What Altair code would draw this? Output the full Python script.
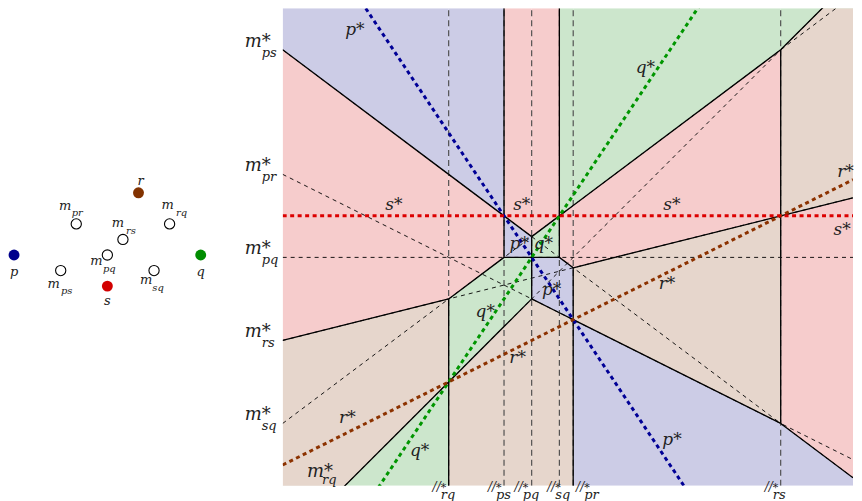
import altair as alt
import pandas as pd

# ---------------- data ----------------
SITES = ["p", "q", "r", "s"]
SITE_X = [-1.5, 1.5, 0.5, 0.0]
SITE_Y = [0.0, 0.0, 1.0, -0.5]
SITE_COLORS = ["#00008c", "#008c00", "#823200", "#d20000"]
LINE_COLORS = ["#000096", "#009600", "#8c3200", "#dc0000"]
REGION_FILLS = ["#ccccE6", "#cce6cc", "#e6d6cc", "#f6cccc"]

PAIRS = ["ps", "pr", "pq", "rs", "sq", "rq"]

DUAL_X = [-3.0, 3.871]
DUAL_Y = [-2.75, 3.0]
PRIMAL_X = [-1.597, 2.095]
PRIMAL_Y = [-3.708, 3.965]

STAR_TEXT = ["p*", "q*", "s*", "s*", "s*", "s*", "r*", "r*", "r*", "r*",
             "q*", "q*", "p*", "p*", "q*", "p*"]
STAR_X = [-2.13, 1.37, -1.66, -0.12, 1.69, 3.74, 3.78, 1.63, -0.17, -2.22,
          -0.56, -1.35, 1.69, -0.15, 0.14, 0.24]
STAR_Y = [2.74, 2.28, 0.63, 0.63, 0.63, 0.33, 1.03, -0.32, -1.21, -1.93,
          -0.66, -2.33, -2.20, 0.16, 0.16, -0.39]

# label offsets (px) of midpoint labels in the primal panel: m-glyph and subscript
MID_M_OFF = {"pr": (-11, -18), "rq": (-2, -19), "rs": (-5, -16),
             "pq": (-11, 6), "ps": (-7, 13), "sq": (-8, 9)}
MID_SUB_OFF = {"pr": (1, -11), "rq": (12, -11), "rs": (8, -8),
               "pq": (2, 14), "ps": (6, 20), "sq": (4, 17)}
SITE_LAB_OFF = {"p": (0, 17), "q": (0, 17), "r": (2, -12), "s": (0, 15)}
# horizontal nudges (px) of the bottom "//*" labels
VTICK_SHIFT = {"ps": 0, "pr": 19, "pq": -1, "rs": 0, "sq": 4, "rq": 0}

# ---------------- geometry ----------------
XMIN, XMAX = DUAL_X
YMIN, YMAX = DUAL_Y
idx = {n: i for i, n in enumerate(SITES)}
SC = 83.1


def dual(i, x):
    return SITE_X[i] * x - SITE_Y[i]


def mid(i, j, x):
    return 0.5 * (dual(i, x) + dual(j, x))


def par_x(i, j):
    return (SITE_Y[i] - SITE_Y[j]) / (SITE_X[i] - SITE_X[j])


def nearest(x, y):
    return min(range(4), key=lambda i: abs(dual(i, x) - y))


crit = sorted(par_x(idx[a], idx[b]) for a, b in PAIRS)
xs = [XMIN] + [c for c in crit if XMIN < c < XMAX] + [XMAX]

region_rows, edge_rows = [], []
band = 0
for x0, x1 in zip(xs[:-1], xs[1:]):
    xm = 0.5 * (x0 + x1)
    order = sorted(range(4), key=lambda i: dual(i, xm))
    for k, i in enumerate(order):
        for x in (x0, x1):
            lo = YMIN if k == 0 else mid(order[k - 1], i, x)
            hi = YMAX if k == 3 else mid(i, order[k + 1], x)
            region_rows.append(dict(band="b%02d" % band, site=SITES[i], x=x, lo=lo, hi=hi))
        band += 1
    for k in range(3):
        a, b = order[k], order[k + 1]
        edge_rows.append(dict(x=x0, y=mid(a, b, x0), x2=x1, y2=mid(a, b, x1)))

for c in xs[1:-1]:
    ys = {YMIN, YMAX}
    for i in range(4):
        for j in range(i + 1, 4):
            v = mid(i, j, c)
            if YMIN < v < YMAX:
                ys.add(v)
    ys = sorted(ys)
    for ya, yb in zip(ys[:-1], ys[1:]):
        ym = 0.5 * (ya + yb)
        if nearest(c - 1e-6, ym) != nearest(c + 1e-6, ym):
            edge_rows.append(dict(x=c, y=ya, x2=c, y2=yb))

regions = pd.DataFrame(region_rows)
edges = pd.DataFrame(edge_rows)

bis_rows, vert_rows, tick_rows, vtick_rows = [], [], [], []
for pr in PAIRS:
    i, j = idx[pr[0]], idx[pr[1]]
    bis_rows.append(dict(x=XMIN, y=mid(i, j, XMIN), x2=XMAX, y2=mid(i, j, XMAX)))
    c = par_x(i, j)
    vert_rows.append(dict(x=c, y=YMIN, x2=c, y2=YMAX))
    vtick_rows.append(dict(x=c + VTICK_SHIFT[pr] / SC, y=YMIN, sub=pr))
    v = mid(i, j, XMIN)
    if YMIN <= v <= YMAX:
        tick_rows.append(dict(x=XMIN, y=v, sub=pr))
bis = pd.DataFrame(bis_rows)
verts = pd.DataFrame(vert_rows)
ticks = pd.DataFrame(tick_rows)
vticks = pd.DataFrame(vtick_rows)
# m*_rq leaves through the bottom edge
rq_hit = pd.DataFrame([dict(x=YMIN + 0.5, y=YMIN, sub="rq")])

dotted = pd.DataFrame([dict(site=s, x=XMIN, y=dual(i, XMIN), x2=XMAX, y2=dual(i, XMAX))
                       for i, s in enumerate(SITES)])
stars = pd.DataFrame(dict(x=STAR_X, y=STAR_Y, t=STAR_TEXT))

# ---------------- dual panel ----------------
W2 = round((XMAX - XMIN) * SC)
H = round((YMAX - YMIN) * SC)
xs_ = alt.Scale(domain=DUAL_X, nice=False, zero=False)
ys_ = alt.Scale(domain=DUAL_Y, nice=False, zero=False)
X = alt.X("x:Q", scale=xs_, axis=None)
Y = alt.Y("y:Q", scale=ys_, axis=None)
fill_scale = alt.Scale(domain=SITES, range=REGION_FILLS)
line_scale = alt.Scale(domain=SITES, range=LINE_COLORS)
FONT = "DejaVu Serif"

area = alt.Chart(regions).mark_area(clip=True, interpolate="linear", orient="vertical",
                                    opacity=1).encode(
    x=alt.X("x:Q", scale=xs_, axis=None),
    y=alt.Y("lo:Q", scale=ys_, axis=None, stack=None),
    y2=alt.Y2("hi:Q"),
    color=alt.Color("site:N", scale=fill_scale, legend=None),
    detail="band:N")

bis_l = alt.Chart(bis).mark_rule(clip=True, color="black", strokeWidth=0.9,
                                 strokeDash=[4, 4]).encode(x=X, y=Y, x2="x2:Q", y2="y2:Q")
vert_l = alt.Chart(verts).mark_rule(clip=True, color="#444444", strokeWidth=1.1,
                                    strokeDash=[6, 4]).encode(x=X, y=Y, x2="x2:Q", y2="y2:Q")
edge_l = alt.Chart(edges).mark_rule(clip=True, color="black", strokeWidth=1.3).encode(
    x=X, y=Y, x2="x2:Q", y2="y2:Q")
dot_l = alt.Chart(dotted).mark_rule(clip=True, strokeWidth=3, strokeDash=[4, 3.5]).encode(
    x=X, y=Y, x2="x2:Q", y2="y2:Q",
    color=alt.Color("site:N", scale=line_scale, legend=None))

star_l = alt.Chart(stars).mark_text(font=FONT, fontStyle="italic", fontSize=17,
                                    align="center", baseline="middle", color="#222").encode(
    x=X, y=Y, text="t:N")

tick_m = alt.Chart(ticks).mark_text(font=FONT, fontStyle="italic", fontSize=18, align="left",
                                    baseline="alphabetic", dx=-38, dy=-3, color="#222").encode(
    x=X, y=Y, text=alt.value("m*"))
tick_s = alt.Chart(ticks).mark_text(font=FONT, fontStyle="italic", fontSize=13, align="left",
                                    baseline="alphabetic", dx=-21, dy=7, color="#222").encode(
    x=X, y=Y, text="sub:N")
rq_m = alt.Chart(rq_hit).mark_text(font=FONT, fontStyle="italic", fontSize=18, align="left",
                                   baseline="alphabetic", dx=-38, dy=-9, color="#222").encode(
    x=X, y=Y, text=alt.value("m*"))
rq_s = alt.Chart(rq_hit).mark_text(font=FONT, fontStyle="italic", fontSize=13, align="left",
                                   baseline="alphabetic", dx=-23, dy=-2, color="#222").encode(
    x=X, y=Y, text="sub:N")
vt_b = alt.Chart(vticks).mark_text(font=FONT, fontStyle="italic", fontSize=12, align="right",
                                   baseline="alphabetic", dx=-8, dy=5, color="#222").encode(
    x=X, y=Y, text=alt.value("//"))
vt_st = alt.Chart(vticks).mark_text(font=FONT, fontSize=11, align="left",
                                    baseline="alphabetic", dx=-8, dy=5, color="#222").encode(
    x=X, y=Y, text=alt.value("*"))
vt_s = alt.Chart(vticks).mark_text(font=FONT, fontStyle="italic", fontSize=13, align="left",
                                   baseline="alphabetic", dx=-8, dy=13, color="#222").encode(
    x=X, y=Y, text="sub:N")

right = alt.layer(area, vert_l, bis_l, edge_l, dot_l, star_l, tick_m, tick_s, rq_m, rq_s,
                  vt_b, vt_st, vt_s).resolve_scale(color="independent").properties(
    width=W2, height=H)

# ---------------- primal panel ----------------
PS = 62.3
W1 = 230
mids = []
for pr in PAIRS:
    i, j = idx[pr[0]], idx[pr[1]]
    mids.append(dict(x=0.5 * (SITE_X[i] + SITE_X[j]), y=0.5 * (SITE_Y[i] + SITE_Y[j]), sub=pr))
mids = pd.DataFrame(mids)
mids["mx"] = [r.x + MID_M_OFF[r.sub][0] / PS for r in mids.itertuples()]
mids["my"] = [r.y - MID_M_OFF[r.sub][1] / PS for r in mids.itertuples()]
mids["sx"] = [r.x + MID_SUB_OFF[r.sub][0] / PS for r in mids.itertuples()]
mids["sy"] = [r.y - MID_SUB_OFF[r.sub][1] / PS for r in mids.itertuples()]

sites = pd.DataFrame(dict(site=SITES, x=SITE_X, y=SITE_Y))
sites["lx"] = [x + SITE_LAB_OFF[s][0] / PS for s, x in zip(SITES, SITE_X)]
sites["ly"] = [y - SITE_LAB_OFF[s][1] / PS for s, y in zip(SITES, SITE_Y)]

pxs = alt.Scale(domain=PRIMAL_X, nice=False, zero=False)
pys = alt.Scale(domain=PRIMAL_Y, nice=False, zero=False)
site_scale = alt.Scale(domain=SITES, range=SITE_COLORS)

mid_pts = alt.Chart(mids).mark_point(shape="circle", filled=True, fill="white", stroke="black",
                                     strokeWidth=1.1, size=105, opacity=1).encode(
    x=alt.X("x:Q", scale=pxs, axis=None), y=alt.Y("y:Q", scale=pys, axis=None))
site_pts = alt.Chart(sites).mark_circle(size=120, opacity=1).encode(
    x=alt.X("x:Q", scale=pxs, axis=None), y=alt.Y("y:Q", scale=pys, axis=None),
    color=alt.Color("site:N", scale=site_scale, legend=None))
site_lab = alt.Chart(sites).mark_text(font=FONT, fontStyle="italic", fontSize=13,
                                      baseline="middle", color="#222").encode(
    x=alt.X("lx:Q", scale=pxs, axis=None), y=alt.Y("ly:Q", scale=pys, axis=None), text="site:N")
mid_m = alt.Chart(mids).mark_text(font=FONT, fontStyle="italic", fontSize=13,
                                  baseline="middle", color="#222").encode(
    x=alt.X("mx:Q", scale=pxs, axis=None), y=alt.Y("my:Q", scale=pys, axis=None),
    text=alt.value("m"))
mid_s = alt.Chart(mids).mark_text(font=FONT, fontStyle="italic", fontSize=10,
                                  baseline="middle", color="#222").encode(
    x=alt.X("sx:Q", scale=pxs, axis=None), y=alt.Y("sy:Q", scale=pys, axis=None), text="sub:N")

left = alt.layer(mid_pts, site_pts, site_lab, mid_m, mid_s).properties(width=W1, height=H)

chart = alt.hconcat(left, right, spacing=45, bounds="flush").resolve_scale(
    color="independent").configure_view(stroke=None).properties(padding=0, background="white")

chart.save("out.html", embed_options={"renderer": "svg", "actions": False})
